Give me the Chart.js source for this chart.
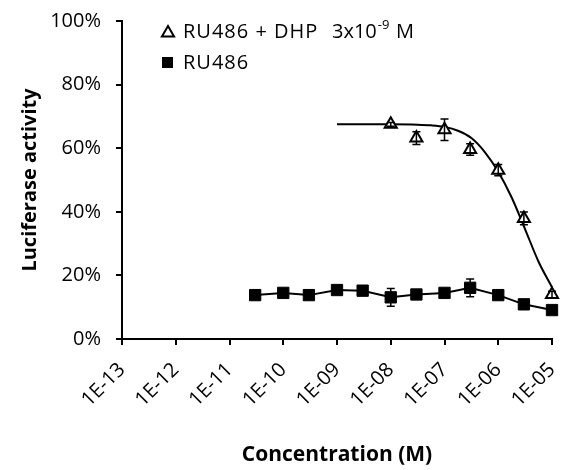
<!DOCTYPE html>
<html><head><meta charset="utf-8">
<script src="https://cdn.jsdelivr.net/npm/chart.js@4/dist/chart.umd.min.js"></script>
<style>html,body{margin:0;padding:0;background:#fff}</style>
</head><body>
<canvas id="c" width="565" height="470" style="width:565px;height:470px;display:block"></canvas>
<script>
// ---- data ----
const tickExponents = [-13,-12,-11,-10,-9,-8,-7,-6,-5];
const yTickValues = [0,20,40,60,80,100];
const squareConc = [3e-11,1e-10,3e-10,1e-9,3e-9,1e-8,3e-8,1e-7,3e-7,1e-6,3e-6,1e-5];
const squareValues = [13.8,14.5,13.8,15.4,15.2,13.1,14.0,14.5,16.1,13.8,10.9,9.1];
const squareErrors = [0.5,0.5,0.5,0.5,0.5,2.8,0.5,0.5,2.8,0.5,0.5,0.5];
const triangleConc = [1e-8,3e-8,1e-7,3e-7,1e-6,3e-6,1e-5];
const triangleValues = [67.5,63.2,65.8,59.6,53.1,37.9,14.0];
const triangleErrors = [0.6,2.0,3.4,1.8,1.8,2.0,1.0];
const curveLogConc = [-9.0,-8.0,-7.5,-7.25,-7.0,-6.75,-6.5,-6.25,-6.0,-5.75,-5.5,-5.25,-5.0];
const curveValues = [67.5,67.5,67.4,67.2,66.7,65.5,63.2,58.8,52.6,44.5,34.5,24.3,16.3];
const legendLabels = ['RU486 + DHP', 'RU486'];
const legendConcText = ['3x10', '-9', 'M'];
const xTitle = 'Concentration (M)';
const yTitle = 'Luciferase activity';

const FONT = '"Open Sans", "Liberation Sans", sans-serif';

const errorBars = {
  id: 'errorBars',
  afterDatasetsDraw(chart) {
    const ctx = chart.ctx, xs = chart.scales.x, ys = chart.scales.y;
    chart.data.datasets.forEach(ds => {
      if (!ds.errors) return;
      ctx.save();
      ctx.strokeStyle = '#000';
      ctx.lineWidth = 1.5;
      ds.data.forEach((p, i) => {
        const e = ds.errors[i];
        const x = xs.getPixelForValue(p.x);
        const y1 = ys.getPixelForValue(p.y + e), y2 = ys.getPixelForValue(p.y - e);
        ctx.beginPath();
        ctx.moveTo(x, y1); ctx.lineTo(x, y2);
        ctx.moveTo(x - 4, y1); ctx.lineTo(x + 4, y1);
        ctx.moveTo(x - 4, y2); ctx.lineTo(x + 4, y2);
        ctx.stroke();
      });
      ctx.restore();
    });
  }
};

const customLegend = {
  id: 'customLegend',
  afterDraw(chart) {
    const ctx = chart.ctx;
    ctx.save();
    const tx = 168, ty = 33, r = 7;
    ctx.beginPath();
    ctx.moveTo(tx, ty - r);
    ctx.lineTo(tx + r * 0.866, ty + r / 2);
    ctx.lineTo(tx - r * 0.866, ty + r / 2);
    ctx.closePath();
    ctx.fillStyle = '#fff'; ctx.fill();
    ctx.strokeStyle = '#000'; ctx.lineWidth = 2; ctx.stroke();
    ctx.fillStyle = '#000';
    ctx.fillRect(162, 57, 11, 11);
    ctx.textBaseline = 'middle';
    ctx.textAlign = 'left';
    ctx.letterSpacing = '1px';
    ctx.font = '20px ' + FONT;
    ctx.fillText(legendLabels[0], 183, 32);
    ctx.fillText(legendLabels[1], 183, 63);
    ctx.letterSpacing = '0px';
    ctx.fillText(legendConcText[0], 332, 32);
    const w = ctx.measureText(legendConcText[0]).width;
    ctx.font = '13px ' + FONT;
    ctx.fillText(legendConcText[1], 332 + w + 1, 25);
    ctx.font = '20px ' + FONT;
    ctx.fillText(legendConcText[2], 396, 32);
    ctx.restore();
  }
};

const fmtExp = v => {
  const e = Math.round(Math.log10(v));
  return '1E' + (e < 0 ? '-' : '+') + String(Math.abs(e)).padStart(2, '0');
};

new Chart(document.getElementById('c'), {
  type: 'scatter',
  data: {
    datasets: [
      {
        label: legendLabels[0],
        data: triangleConc.map((c, i) => ({x: c, y: triangleValues[i]})),
        errors: triangleErrors,
        pointStyle: 'triangle', pointRadius: 7,
        backgroundColor: '#fff', borderColor: '#000', borderWidth: 2,
        showLine: false, clip: false, order: 1
      },
      {
        label: legendLabels[1],
        data: squareConc.map((c, i) => ({x: c, y: squareValues[i]})),
        errors: squareErrors,
        pointStyle: 'rect', pointRadius: 8,
        pointBackgroundColor: '#000', pointBorderColor: '#000', pointBorderWidth: 1,
        borderColor: '#000', borderWidth: 2,
        showLine: true, tension: 0, clip: false, order: 2
      },
      {
        label: 'fit',
        data: curveLogConc.map((e, i) => ({x: Math.pow(10, e), y: curveValues[i]})),
        pointRadius: 0, borderColor: '#000', borderWidth: 2,
        showLine: true, cubicInterpolationMode: 'monotone', clip: false, order: 3
      }
    ]
  },
  options: {
    responsive: false, animation: false, devicePixelRatio: 1,
    layout: {padding: {left: 0, right: 13, top: 21, bottom: 0}},
    plugins: {legend: {display: false}, tooltip: {enabled: false}},
    scales: {
      x: {
        type: 'logarithmic', min: 1e-13, max: 1e-5,
        afterBuildTicks: s => { s.ticks = tickExponents.map(e => ({value: Math.pow(10, e)})); },
        afterFit: s => { s.height = 131; s.paddingLeft = 0; s.paddingRight = 0; },
        border: {display: true, color: '#000', width: 2},
        grid: {display: true, drawOnChartArea: false, drawTicks: true, tickLength: 6, color: '#000', lineWidth: 2},
        ticks: {
          color: '#000', font: {family: FONT, size: 20, lineHeight: 0.5},
          minRotation: 45, maxRotation: 45, padding: 18, autoSkip: false,
          callback: v => fmtExp(v)
        },
        title: {display: true, text: xTitle, color: '#000',
          font: {family: FONT, size: 21, weight: 'bold'}, padding: {top: 0, bottom: 2}}
      },
      y: {
        min: 0, max: 100,
        afterBuildTicks: s => { s.ticks = yTickValues.map(v => ({value: v})); },
        afterFit: s => { s.width = 122; s.paddingTop = 0; s.paddingBottom = 0; },
        border: {display: true, color: '#000', width: 2},
        grid: {display: true, drawOnChartArea: false, drawTicks: true, tickLength: 6, color: '#000', lineWidth: 2},
        ticks: {color: '#000', font: {family: FONT, size: 20}, padding: 15, callback: v => v + '%'},
        title: {display: true, text: yTitle, color: '#000',
          font: {family: FONT, size: 20, weight: 'bold'}, padding: {top: 18, bottom: 0}}
      }
    }
  },
  plugins: [errorBars, customLegend]
});
</script>
</body></html>
